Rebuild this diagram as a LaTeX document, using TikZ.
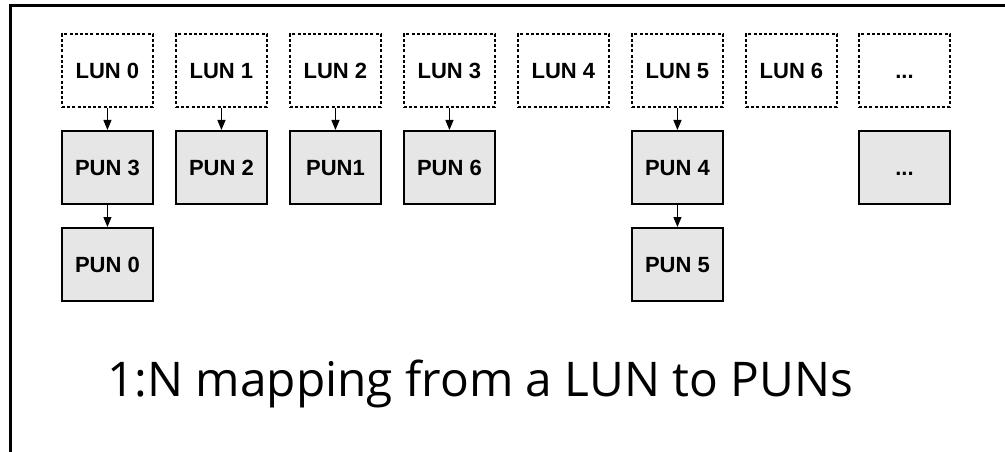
\documentclass[tikz,border=0pt]{standalone}
\usepackage{fontspec}
\setmainfont{Liberation Sans}
\newfontfamily\titlefont{Open Sans}
\usetikzlibrary{arrows.meta}
\tikzset{
  boxtext/.style={font=\fontsize{22}{24}\selectfont\bfseries, text height=15.8pt, text depth=0pt, inner sep=0pt, minimum width=91pt, minimum height=73pt, anchor=north west},
  lunbox/.style={boxtext, draw=black, line width=1.9pt, dash pattern=on 3pt off 2.2pt},
  punbox/.style={boxtext, draw=black, fill=boxgray, line width=1.9pt},
  link/.style={draw=black, line width=1.1pt, -{Triangle[length=10pt,width=8pt]}},
  frame/.style={draw=black, line width=3pt}
}
\definecolor{boxgray}{HTML}{E6E6E6}
\begin{document}
\begin{tikzpicture}[x=1pt,y=-1pt]
\useasboundingbox (0,0) rectangle (1005,452);
\coordinate (f1) at (1005,6);
\coordinate (f2) at (10,6);
\coordinate (f3) at (10,452);
\draw[frame] (f1) -- (f2) -- (f3);
% LUN row
\node[lunbox] (l0) at (61,33) {LUN 0};
\node[lunbox] (l1) at (175,33) {LUN 1};
\node[lunbox] (l2) at (289,33) {LUN 2};
\node[lunbox] (l3) at (403,33) {LUN 3};
\node[lunbox] (l4) at (517,33) {LUN 4};
\node[lunbox] (l5) at (631,33) {LUN 5};
\node[lunbox] (l6) at (745,33) {LUN 6};
\node[lunbox] (l7) at (858,33) {...};
% PUN row
\node[punbox] (p3) at (61,130) {PUN 3};
\node[punbox] (p2) at (175,130) {PUN 2};
\node[punbox] (p1) at (289,130) {PUN1};
\node[punbox] (p6) at (403,130) {PUN 6};
\node[punbox] (p4) at (631,130) {PUN 4};
\node[punbox] (px) at (858,130) {...};
\node[punbox] (p0) at (61,227) {PUN 0};
\node[punbox] (p5) at (631,227) {PUN 5};
% arrows
\draw[link] (l0) -- (p3);
\draw[link] (l1) -- (p2);
\draw[link] (l2) -- (p1);
\draw[link] (l3) -- (p6);
\draw[link] (l5) -- (p4);
\draw[link] (p3) -- (p0);
\draw[link] (p4) -- (p5);
% title
\node[font=\titlefont\fontsize{47.8}{52}\selectfont, anchor=base west, inner sep=0pt] (title) at (107,396) {1:N mapping from a LUN to PUNs};
\end{tikzpicture}
\end{document}
